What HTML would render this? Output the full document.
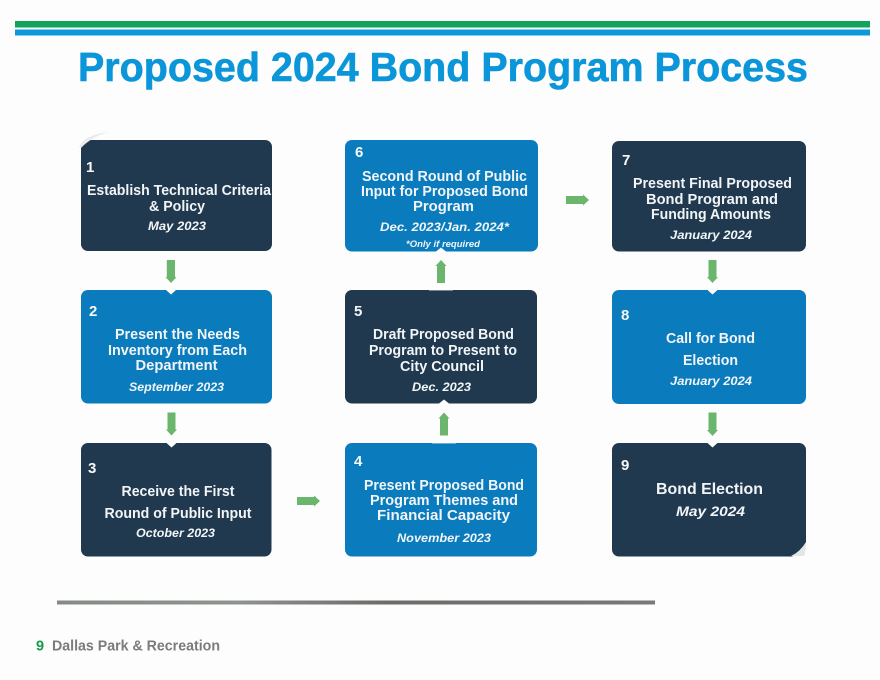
<!DOCTYPE html>
<html lang="en">
<head>
<meta charset="utf-8">
<title>Proposed 2024 Bond Program Process</title>
<style>
html,body{margin:0;padding:0;background:#fdfdfd;}
svg{display:block;filter:blur(0.35px);}
text{font-family:"Liberation Sans",Arial,sans-serif;}
.t{font-size:14.5px;font-weight:bold;fill:#f2f5f7;text-anchor:middle;}
.d{font-size:12px;font-weight:bold;font-style:italic;fill:#f2f5f7;text-anchor:middle;}
.n{font-size:15px;font-weight:bold;fill:#f7f8f9;}
.dk{fill:#20394f;}
.bl{fill:#0a7bbd;}
.ar{fill:#6bb56c;}
</style>
</head>
<body>
<svg width="880" height="680" viewBox="0 0 880 680" xmlns="http://www.w3.org/2000/svg">
<defs>
<linearGradient id="rule" x1="0" x2="1" y1="0" y2="0">
<stop offset="0" stop-color="#858a85"/><stop offset=".3" stop-color="#8f938e"/><stop offset=".55" stop-color="#6a6d68"/><stop offset="1" stop-color="#777a76"/>
</linearGradient>
</defs>
<rect width="880" height="680" fill="#fdfdfd"/>
<rect x="15" y="21" width="855" height="6.5" fill="#12a25c"/>
<rect x="15" y="29.5" width="855" height="6" fill="#0a9ad9"/>
<text x="78" y="81" font-size="41" font-weight="bold" fill="#0a96d8" stroke="#0a96d8" stroke-width="0.6" textLength="730" lengthAdjust="spacingAndGlyphs">Proposed 2024 Bond Program Process</text>

<!-- boxes -->
<rect class="dk" x="81" y="140" width="191" height="111" rx="7"/>
<path d="M79 147 Q84 135 108 132 Q90 138 81 148 Z" fill="#ececec"/>
<rect class="bl" x="81" y="290" width="191" height="113.500" rx="7"/>
<rect class="dk" x="81" y="443" width="190.500" height="113.500" rx="7"/>
<rect class="bl" x="345" y="443" width="192" height="113.500" rx="7"/>
<rect class="dk" x="345" y="290" width="192" height="113.500" rx="7"/>
<rect class="bl" x="345" y="140" width="193" height="111.500" rx="7"/>
<rect class="dk" x="612" y="141" width="194" height="110.500" rx="7"/>
<rect class="bl" x="612" y="290" width="194" height="114" rx="7"/>
<rect class="dk" x="612" y="443" width="194" height="113.500" rx="7"/>
<path d="M807 541 L807 558 L790 558 Q800 552 807 541 Z" fill="#fdfdfd"/>
<path d="M806 542 Q800 552 791 556 L804 556 Q806 552 806 542 Z" fill="#e2e6e6"/>

<!-- box notches -->
<path d="M166 290 L171 294.500 L176 290 Z M166.500 443 L171.500 447.500 L176.500 443 Z M707.500 290 L712.500 294.500 L717.500 290 Z M707.500 443 L712.500 447.500 L717.500 443 Z" fill="#fdfdfd"/>
<path d="M436 251.500 L441 247.500 L446 251.500 Z M439 403.500 L444 399.500 L449 403.500 Z" fill="#fdfdfd"/>
<rect x="429" y="290" width="24" height="0.800" fill="#8d99a5"/>
<rect x="432" y="443" width="24" height="0.800" fill="#7fbbdd"/>

<!-- arrows -->
<path class="ar" d="M166.800 260 H175 V277 H176.500 L171 283 L165.500 277 H166.800 Z"/>
<path class="ar" d="M167.500 412.500 H175.500 V429.500 H177 L171.500 435.500 L166 429.500 H167.500 Z"/>
<path class="ar" d="M708.500 260 H716.500 V277 H718 L712.500 283 L707 277 H708.500 Z"/>
<path class="ar" d="M708.500 412.500 H716.500 V430 H718 L712.500 436 L707 430 H708.500 Z"/>
<path class="ar" d="M437 283 H445 V266 H446.500 L441 260 L435.500 266 H437 Z"/>
<path class="ar" d="M440 435.500 H448 V418.500 H449.500 L444 412.500 L438.500 418.500 H440 Z"/>
<path class="ar" d="M297 497 H314 V495.500 L320 501 L314 506.500 V505 H297 Z"/>
<path class="ar" d="M566 196 H583 V194.500 L589 200 L583 205.500 V204 H566 Z"/>

<!-- box 1 -->
<text class="n" x="86" y="172">1</text>
<text class="t" x="179" y="195" textLength="184" lengthAdjust="spacingAndGlyphs">Establish Technical Criteria</text>
<text class="t" x="177" y="211" textLength="56" lengthAdjust="spacingAndGlyphs">&amp; Policy</text>
<text class="d" x="177" y="230" textLength="58" lengthAdjust="spacingAndGlyphs">May 2023</text>
<!-- box 2 -->
<text class="n" x="89" y="316">2</text>
<text class="t" x="177.500" y="339" textLength="125" lengthAdjust="spacingAndGlyphs">Present the Needs</text>
<text class="t" x="177.500" y="355" textLength="139" lengthAdjust="spacingAndGlyphs">Inventory from Each</text>
<text class="t" x="176.500" y="370" textLength="82" lengthAdjust="spacingAndGlyphs">Department</text>
<text class="d" x="176.500" y="391" textLength="95" lengthAdjust="spacingAndGlyphs">September 2023</text>
<!-- box 3 -->
<text class="n" x="88" y="473">3</text>
<text class="t" x="178" y="496" textLength="113" lengthAdjust="spacingAndGlyphs">Receive the First</text>
<text class="t" x="178" y="518" textLength="147" lengthAdjust="spacingAndGlyphs">Round of Public Input</text>
<text class="d" x="175.500" y="537" textLength="79" lengthAdjust="spacingAndGlyphs">October 2023</text>
<!-- box 4 -->
<text class="n" x="354" y="466">4</text>
<text class="t" x="444" y="490" textLength="160" lengthAdjust="spacingAndGlyphs">Present Proposed Bond</text>
<text class="t" x="444" y="505" textLength="148" lengthAdjust="spacingAndGlyphs">Program Themes and</text>
<text class="t" x="443.500" y="520" textLength="133" lengthAdjust="spacingAndGlyphs">Financial Capacity</text>
<text class="d" x="444" y="542" textLength="94" lengthAdjust="spacingAndGlyphs">November 2023</text>
<!-- box 5 -->
<text class="n" x="354" y="316">5</text>
<text class="t" x="443.500" y="339" textLength="141" lengthAdjust="spacingAndGlyphs">Draft Proposed Bond</text>
<text class="t" x="443" y="355" textLength="148" lengthAdjust="spacingAndGlyphs">Program to Present to</text>
<text class="t" x="442" y="371" textLength="84" lengthAdjust="spacingAndGlyphs">City Council</text>
<text class="d" x="441.500" y="391" textLength="59" lengthAdjust="spacingAndGlyphs">Dec. 2023</text>
<!-- box 6 -->
<text class="n" x="355" y="157">6</text>
<text class="t" x="444.500" y="181" textLength="165" lengthAdjust="spacingAndGlyphs">Second Round of Public</text>
<text class="t" x="444.500" y="196" textLength="167" lengthAdjust="spacingAndGlyphs">Input for Proposed Bond</text>
<text class="t" x="443.500" y="211" textLength="61" lengthAdjust="spacingAndGlyphs">Program</text>
<text class="d" x="444.500" y="231" textLength="129" lengthAdjust="spacingAndGlyphs">Dec. 2023/Jan. 2024*</text>
<text class="d" x="443" y="247" style="font-size:9.5px" textLength="74" lengthAdjust="spacingAndGlyphs">*Only if required</text>
<!-- box 7 -->
<text class="n" x="622" y="165">7</text>
<text class="t" x="712.500" y="188" textLength="159" lengthAdjust="spacingAndGlyphs">Present Final Proposed</text>
<text class="t" x="712" y="204" textLength="132" lengthAdjust="spacingAndGlyphs">Bond Program and</text>
<text class="t" x="711" y="219" textLength="120" lengthAdjust="spacingAndGlyphs">Funding Amounts</text>
<text class="d" x="711" y="239" textLength="82" lengthAdjust="spacingAndGlyphs">January 2024</text>
<!-- box 8 -->
<text class="n" x="621" y="320">8</text>
<text class="t" x="710.500" y="343" textLength="89" lengthAdjust="spacingAndGlyphs">Call for Bond</text>
<text class="t" x="710.500" y="365" textLength="55" lengthAdjust="spacingAndGlyphs">Election</text>
<text class="d" x="711" y="385" textLength="82" lengthAdjust="spacingAndGlyphs">January 2024</text>
<!-- box 9 -->
<text class="n" x="621" y="470">9</text>
<text class="t" x="709.500" y="494" style="font-size:15.5px" textLength="107" lengthAdjust="spacingAndGlyphs">Bond Election</text>
<text class="d" x="710.500" y="516" style="font-size:14px" textLength="69" lengthAdjust="spacingAndGlyphs">May 2024</text>

<!-- footer -->
<rect x="57" y="600.500" width="598" height="4" fill="url(#rule)"/>
<text x="36" y="650.500" font-size="14.500" font-weight="bold" fill="#1a9a46">9</text>
<text x="52" y="650.500" font-size="14.500" font-weight="bold" fill="#7b7b7b" textLength="168" lengthAdjust="spacingAndGlyphs">Dallas Park &amp; Recreation</text>
</svg>
</body>
</html>
